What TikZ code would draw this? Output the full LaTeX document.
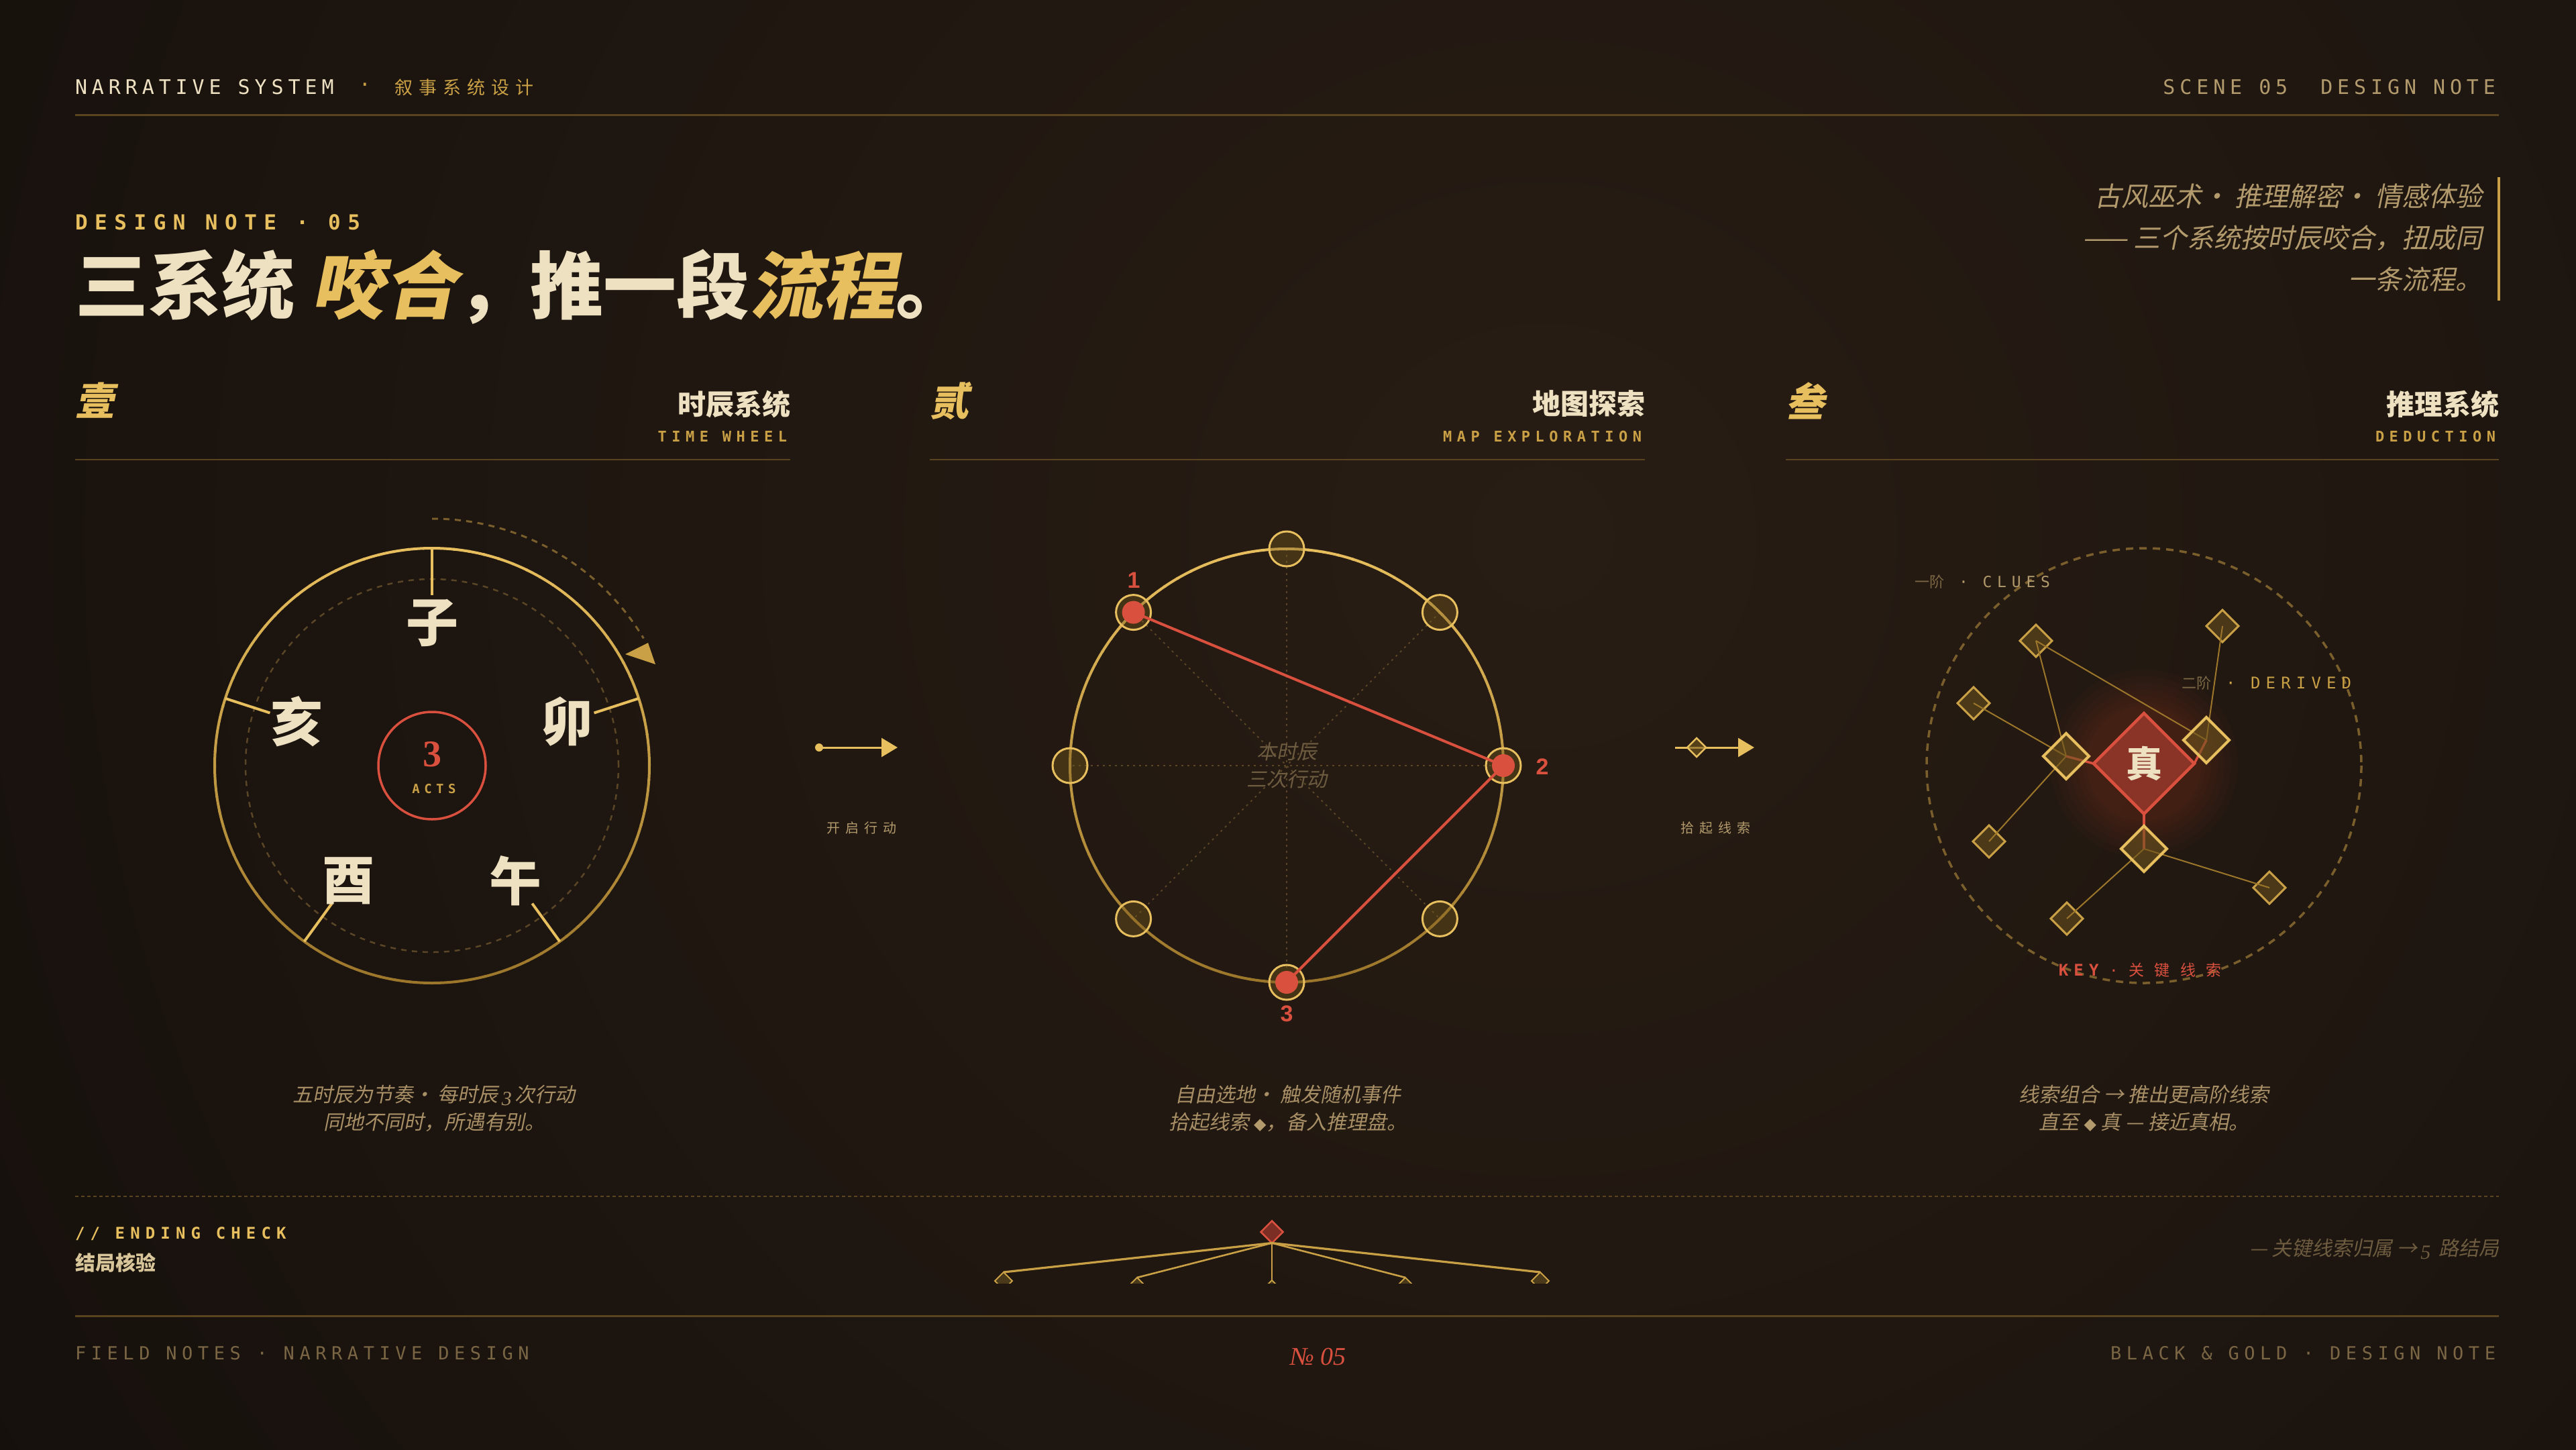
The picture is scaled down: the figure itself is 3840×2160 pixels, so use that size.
\documentclass[tikz,border=0pt]{standalone}
\usepackage{fontspec}
\usetikzlibrary{arrows.meta,shapes.geometric}
\setmainfont{Liberation Serif}
\newfontfamily\cjk{Noto Sans CJK SC}
\newfontfamily\cjkit[FakeSlant=0.2]{Noto Sans CJK SC}
\newfontfamily\cjkS[LetterSpace=40]{Noto Sans CJK SC}
\newfontfamily\cjkW[LetterSpace=66]{Noto Sans CJK SC}
\newfontfamily\cjkH[LetterSpace=34]{Noto Sans CJK SC}
\newfontfamily\monoH[LetterSpace=23]{DejaVu Sans Mono}
\newfontfamily\monoF[LetterSpace=28]{DejaVu Sans Mono}
\newfontfamily\monoS[LetterSpace=34]{DejaVu Sans Mono}
\newfontfamily\lsans{Liberation Sans}
\newfontfamily\djv{DejaVu Sans}

\definecolor{bgbase}{HTML}{100C0A}
\definecolor{bgwarm}{HTML}{281D14}
\definecolor{cream}{HTML}{EEE1C2}
\definecolor{gold}{HTML}{E8BF5E}
\definecolor{goldm}{HTML}{C9A045}
\definecolor{goldd}{HTML}{9C762A}
\definecolor{rulec}{HTML}{5A4420}
\definecolor{tan}{HTML}{B29A6C}
\definecolor{tand}{HTML}{7C6845}
\definecolor{dimg}{HTML}{7A5E2C}
\definecolor{dimline}{HTML}{5A4626}
\definecolor{redk}{HTML}{D9503F}
\definecolor{redf}{HTML}{7C2E24}
\definecolor{glow}{HTML}{A83A2A}
\definecolor{nodef}{HTML}{4A3A1A}
\definecolor{captc}{HTML}{A88F66}
\definecolor{dimtext}{HTML}{6E5C40}
\definecolor{foot}{HTML}{7A6644}

\tikzset{
  every node/.style={inner sep=0pt, outer sep=0pt},
  numeral/.style={anchor=west, text=gold, font=\cjkit\bfseries\fontsize{58}{60}\selectfont},
  sectitle/.style={anchor=east, text=cream, font=\cjk\bfseries\fontsize{42}{46}\selectfont},
  secsub/.style={anchor=east, text=goldm, font=\monoS\bfseries\fontsize{22}{24}\selectfont},
  secrule/.style={rulec, line width=2pt},
  wheellabel/.style={text=cream, font=\cjk\bfseries\fontsize{78}{80}\selectfont},
  caption/.style={align=center, text=captc, font=\cjkit\fontsize{30}{41}\selectfont},
  flowlabel/.style={text=tan, font=\cjkS\fontsize{20}{22}\selectfont},
  flowarrow/.style={gold, line width=3pt, -{Triangle[length=24pt,width=28pt]}},
  mapnode/.style={circle, minimum size=52pt, draw=gold, line width=3pt, fill={rgb,255:red,120;green,90;blue,30}, fill opacity=0.4},
  reddot/.style={circle, minimum size=34pt, fill=redk},
  maplabel/.style={text=redk, font=\lsans\bfseries\fontsize{34}{36}\selectfont},
  clue/.style={diamond, aspect=1, minimum width=48pt, minimum height=48pt, draw=goldm, line width=3pt, fill={rgb,255:red,110;green,84;blue,30}, fill opacity=0.55},
  derived/.style={diamond, aspect=1, minimum width=68pt, minimum height=68pt, draw=gold, line width=4pt, fill={rgb,255:red,110;green,84;blue,30}, fill opacity=0.6},
  truth/.style={diamond, aspect=1, minimum width=150pt, minimum height=150pt, draw=redk, line width=4.5pt, fill={rgb,255:red,138;green,52;blue,40}, text=cream, font=\cjk\bfseries\fontsize{54}{56}\selectfont},
  link/.style={goldd, line width=2pt},
  redlink/.style={redk, line width=3.5pt},
  leaf/.style={diamond, aspect=1, minimum width=26pt, minimum height=26pt, draw=goldm, line width=2pt, fill=nodef, anchor=north},
  branch/.style={goldm, line width=#1},
  footer/.style={text=foot, font=\monoF\fontsize{27}{30}\selectfont},
}

\begin{document}
\begin{tikzpicture}[x=1pt,y=-1pt]
\useasboundingbox (0,0) rectangle (3840,2160);
% background
\fill[bgbase] (0,0) rectangle (3840,2160);
\begin{scope}
  \clip (0,0) rectangle (3840,2160);
  \shade[inner color=bgwarm, outer color=bgbase] (2300,800) circle (3600);
\end{scope}

% ---------- header ----------
\node[anchor=west, text=cream, font=\monoH\fontsize{30}{32}\selectfont] (hdrL) at (112,130) {NARRATIVE SYSTEM};
\node[text=goldm, font=\monoH\fontsize{30}{32}\selectfont] (hdrDot) at (544,130) {·};
\node[anchor=west, text=goldm, font=\cjkH\fontsize{27}{30}\selectfont] (hdrCN) at (588,130) {叙事系统设计};
\node[anchor=east, text=tan, font=\monoH\fontsize{30}{32}\selectfont] (hdrR) at (3720,130) {SCENE 05\hspace{24pt} DESIGN NOTE};
\draw[rulec, line width=3pt] (112,171) -- (3725,171);

% ---------- title ----------
\node[anchor=west, text=gold, font=\monoS\bfseries\fontsize{31}{33}\selectfont] (kicker) at (112,331) {DESIGN NOTE · 05};
\node[anchor=west, text=cream, font=\cjk\bfseries\fontsize{109}{115}\selectfont] (title) at (112,427)
  {三系统 {\cjkit\color{gold}咬合}，推一段{\cjkit\color{gold}流程}。};
\node[anchor=east, align=right, text=tan, font=\cjkit\fontsize{40}{62}\selectfont] (quote) at (3700,354)
  {古风巫术· 推理解密· 情感体验\\—— 三个系统按时辰咬合，扭成同\\一条流程。};
\draw[goldm, line width=4pt] (3725,264) -- (3725,448);

% ---------- section headers ----------
\foreach \L/\R/\N/\T/\S/\i in {112/1178/壹/时辰系统/TIME WHEEL/1, 1386/2452/贰/地图探索/MAP EXPLORATION/2, 2662/3725/叁/推理系统/DEDUCTION/3}{
  \node[numeral] (num\i) at (\L,597) {\N};
  \node[sectitle] (tit\i) at (\R,602) {\T};
  \node[secsub] (sub\i) at (\R-5,650) {\S};
  \draw[secrule] (\L,685) -- (\R,685);
}

% ---------- wheel 1 : time wheel ----------
\begin{scope}[shift={(644,1141)}, y=1pt]
  \draw[dimline, line width=2.5pt, dash pattern=on 8pt off 8pt] (0,0) circle (278);
  \foreach \a in {0,4,...,356}{
    \pgfmathtruncatemacro\gmix{50+50*sin(\a+2)}
    \draw[line width=4pt, gold!\gmix!goldd] (\a:324) arc[start angle=\a, end angle=\a+4.4, radius=324];
  }
  \foreach \a in {90,18,-54,-126,162} \draw[gold, line width=4pt] (\a:324) -- (\a:254);
  \foreach \a/\c/\n in {90/子/zi, 18/卯/mao, -54/午/wu, -126/酉/you, 162/亥/hai}
    \node[wheellabel] (\n) at (\a:212) {\c};
  \node[circle, minimum size=160pt, draw=redk, line width=3.5pt] (acts) at (0,0) {};
  \node[text=redk, font=\rmfamily\bfseries\fontsize{56}{58}\selectfont] (three) at (0,17) {3};
  \node[text=goldm, font=\monoS\bfseries\fontsize{19}{20}\selectfont] (actsw) at (3,-35) {ACTS};
  \draw[dimg, line width=3pt, dash pattern=on 9pt off 8pt] (90:368) arc[start angle=90, end angle=31, radius=368];
  \fill[goldm] (288,166) -- (322,183) -- (333,151) -- cycle;
\end{scope}
\node[caption] (cap1) at (647,1652) {五时辰为节奏· 每时辰\,{\rmfamily\itshape\raisebox{-5pt}{3}}\,次行动\\同地不同时，所遇有别。};

% ---------- flow arrow 1 ----------
\node[circle, minimum size=12pt, fill=gold] (f1s) at (1221,1114) {};
\coordinate (f1e) at (1338,1114);
\draw[flowarrow] (f1s.center) -- (f1e);
\node[flowlabel] (f1l) at (1284,1234) {开启行动};

% ---------- wheel 2 : map ----------
\begin{scope}[shift={(1918,1141)}, y=1pt]
  \foreach \a in {0,45,90,135} \draw[dimline, line width=2pt, dash pattern=on 3pt off 6pt] (\a:323) -- (\a+180:323);
  \foreach \a in {0,4,...,356}{
    \pgfmathtruncatemacro\gmix{50+50*sin(\a+2)}
    \draw[line width=4pt, gold!\gmix!goldd] (\a:323) arc[start angle=\a, end angle=\a+4.4, radius=323];
  }
  \node[align=center, text=dimtext, font=\cjkit\fontsize{30}{41}\selectfont] (w2c) at (0,0) {本时辰\\三次行动};
  \foreach \a in {0,45,...,315} \node[mapnode] (m\a) at (\a:323) {};
  \draw[redk, line width=4pt] (m135.center) -- (m0.center) -- (m270.center);
  \foreach \a in {135,0,270} \node[reddot] (r\a) at (m\a) {};
\end{scope}
\node[maplabel] (n1) at (1690,865) {1};
\node[maplabel] (n2) at (2299,1143) {2};
\node[maplabel] (n3) at (1918,1511) {3};
\node[caption] (cap2) at (1920,1652) {自由选地· 触发随机事件\\拾起线索 {\djv\fontsize{24}{24}\selectfont\color{tan}◆}，备入推理盘。};

% ---------- flow arrow 2 ----------
\coordinate (f2s) at (2497,1114);
\coordinate (f2e) at (2615,1114);
\draw[flowarrow] (f2s) -- (f2e);
\node[diamond, aspect=1, minimum width=28pt, minimum height=28pt, draw=gold, line width=2.5pt, fill={rgb,255:red,120;green,90;blue,30}, fill opacity=0.6] (f2d) at (2529,1114) {};
\node[flowlabel] (f2l) at (2557,1234) {拾起线索};

% ---------- wheel 3 : deduction ----------
\draw[dimg, line width=3.5pt, dash pattern=on 11pt off 9pt] (3196,1141) circle (324);
\coordinate (tc) at (3196,1138);
\foreach \r in {140,130,120,110,100,92,86}
  \fill[glow, opacity=0.045] (tc) circle (\r);
\node[clue] (c1) at (3035,955) {};
\node[clue] (c2) at (3313,933) {};
\node[clue] (c3) at (2942,1048) {};
\node[clue] (c4) at (2965,1254) {};
\node[clue] (c5) at (3081,1369) {};
\node[clue] (c6) at (3383,1323) {};
\coordinate (dlc) at (3080,1127);
\coordinate (drc) at (3289,1103);
\coordinate (dbc) at (3196,1265);
\draw[link] (c1.center) -- (dlc);
\draw[link] (c1.center) -- (drc);
\draw[link] (c3.center) -- (dlc);
\draw[link] (c4.center) -- (dlc);
\draw[link] (c2.center) -- (drc);
\draw[link] (c5.center) -- (dbc);
\draw[link] (c6.center) -- (dbc);
\node[truth] (truth) at (tc) {真};
\draw[redlink] (dlc) -- (truth.west);
\draw[redlink] (drc) -- (truth.east);
\draw[redlink] (dbc) -- (truth.south);
\node[derived] (dl) at (dlc) {};
\node[derived] (dr) at (drc) {};
\node[derived] (db) at (dbc) {};
\node[anchor=west] (lclue) at (2854,867) {{\cjk\fontsize{22}{24}\selectfont\color{tand}一阶}\hspace{22pt}{\monoS\fontsize{23}{24}\selectfont\color{tan}· CLUES}};
\node[anchor=west] (lder) at (3252,1018) {{\cjk\fontsize{22}{24}\selectfont\color{tand}二阶}\hspace{22pt}{\monoS\fontsize{24}{24}\selectfont\color{goldm}· DERIVED}};
\node[text=redk] (lkey) at (3190,1446) {{\monoS\bfseries\fontsize{24}{24}\selectfont KEY}\hspace{16pt}{\monoS\fontsize{22}{24}\selectfont ·}\hspace{16pt}{\cjkW\fontsize{23}{24}\selectfont 关键线索}};
\node[caption] (cap3) at (3196,1652) {线索组合 → 推出更高阶线索\\直至 {\djv\fontsize{24}{24}\selectfont\color{tan}◆} 真 — 接近真相。};

% ---------- ending check ----------
\draw[rulec, line width=2.5pt, dash pattern=on 5pt off 4pt] (112,1783) -- (3725,1783);
\node[anchor=west, text=gold, font=\monoS\bfseries\fontsize{24}{26}\selectfont] (endk) at (112,1839) {// ENDING CHECK};
\node[anchor=west, text={rgb,255:red,216;green,197;blue,154}, font=\cjk\bfseries\fontsize{30}{32}\selectfont] (endc) at (112,1882) {结局核验};
\node[diamond, aspect=1, minimum width=33pt, minimum height=33pt, draw=redk, fill=redf, line width=2.5pt] (root) at (1896,1836) {};
\coordinate (e1) at (1496,1896);
\coordinate (e2) at (1695,1904);
\coordinate (e3) at (1896,1908);
\coordinate (e4) at (2095,1904);
\coordinate (e5) at (2296,1896);
\draw[branch=3.2pt] (root.south) -- (e1);
\draw[branch=2.6pt] (root.south) -- (e2);
\draw[branch=1.5pt] (root.south) -- (e3);
\draw[branch=2.6pt] (root.south) -- (e4);
\draw[branch=3.2pt] (root.south) -- (e5);
\begin{scope}
  \clip (1400,1780) rectangle (2400,1912);
  \foreach \n in {1,...,5} \node[leaf] (leaf\n) at (e\n) {};
\end{scope}
\node[anchor=east, text=dimtext, font=\cjkit\fontsize{30}{32}\selectfont] (endr) at (3725,1861) {— 关键线索归属 →\,{\rmfamily\itshape\raisebox{-5pt}{5}}\, 路结局};

% ---------- footer ----------
\draw[rulec, line width=3pt] (112,1961) -- (3725,1961);
\node[footer, anchor=west] (footL) at (112,2017) {FIELD NOTES · NARRATIVE DESIGN};
\node[footer, anchor=east] (footR) at (3720,2017) {BLACK \& GOLD · DESIGN NOTE};
\node[text=redk, font=\rmfamily\itshape\fontsize{38}{40}\selectfont] (folio) at (1965,2022) {№ 05};
\end{tikzpicture}
\end{document}
